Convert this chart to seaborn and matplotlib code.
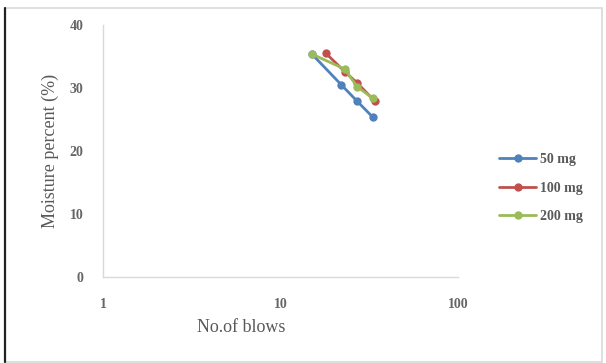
import matplotlib
matplotlib.use("Agg")
import matplotlib.pyplot as plt
import seaborn as sns
import pandas as pd
from matplotlib.patches import Rectangle
from matplotlib.lines import Line2D

# Flow curve readings: number of blows vs. moisture content
blows_50 = [15, 22, 27, 33]
moist_50 = [35.4, 30.5, 27.9, 25.4]

blows_100 = [18, 23, 27, 34]
moist_100 = [35.5, 32.6, 30.8, 27.9]

blows_200 = [15, 23, 27, 33]
moist_200 = [35.4, 33.0, 30.2, 28.4]

series_names = ["50 mg", "100 mg", "200 mg"]
colors = ["#4F81BD", "#C0504D", "#9BBB59"]

x_ticks = [1, 10, 100]
y_ticks = [0, 10, 20, 30, 40]

frames = []
for name, bx, my in zip(series_names,
                        [blows_50, blows_100, blows_200],
                        [moist_50, moist_100, moist_200]):
    frames.append(pd.DataFrame({"blows": bx, "moisture": my, "dose": name}))
df = pd.concat(frames, ignore_index=True)

sns.set_theme(style="white")
plt.rcParams["font.family"] = ["Liberation Serif", "DejaVu Serif"]

fig = plt.figure(figsize=(6.06, 3.63), dpi=100)
ax = fig.add_axes([0.170, 0.237, 0.586, 0.694])

sns.lineplot(data=df, x="blows", y="moisture", hue="dose",
             hue_order=series_names, palette=colors, sort=False,
             marker="o", markersize=6, markeredgewidth=0, linewidth=2,
             ax=ax, legend=False)

ax.set_xscale("log")
ax.set_xlim(1, 100)
ax.set_ylim(0, 40)
ax.set_xticks(x_ticks)
ax.set_xticklabels([str(t) for t in x_ticks])
ax.set_yticks(y_ticks)
ax.set_yticklabels([str(t) for t in y_ticks])
ax.minorticks_off()
ax.tick_params(axis="both", length=0, labelsize=10, colors="#666666")
ax.tick_params(axis="x", pad=15)
ax.tick_params(axis="y", pad=14)
for lab in ax.get_xticklabels() + ax.get_yticklabels():
    lab.set_fontweight("bold")

for side in ["top", "right"]:
    ax.spines[side].set_visible(False)
for side in ["left", "bottom"]:
    ax.spines[side].set_color("#d9d9d9")
    ax.spines[side].set_linewidth(1.0)

ax.set_xlabel("No.of blows", fontsize=13, color="#595959")
ax.xaxis.set_label_coords(0.39, -0.165)
ax.set_ylabel("Moisture percent (%)", fontsize=13, color="#595959", labelpad=8)

handles = [Line2D([0], [0], color=c, marker="o", markersize=6,
                  markeredgewidth=0, linewidth=2) for c in colors]
leg = fig.legend(handles, series_names, loc="upper left",
                 bbox_to_anchor=(0.815, 0.593), frameon=False,
                 fontsize=10, labelspacing=1.1, handlelength=2.6,
                 handletextpad=0.3, borderaxespad=0)
for t in leg.get_texts():
    t.set_color("#595959")
    t.set_fontweight("bold")

# Chart frame
fig.patches.append(Rectangle((0.009, 0.004), 0.985, 0.975,
                             transform=fig.transFigure, fill=False,
                             edgecolor="#d9d9d9", linewidth=1.2))
fig.lines.append(Line2D([0.009, 0.009], [0.004, 0.979],
                        transform=fig.transFigure, color="#222222",
                        linewidth=1.6))

fig.savefig("out.png", dpi=100)
